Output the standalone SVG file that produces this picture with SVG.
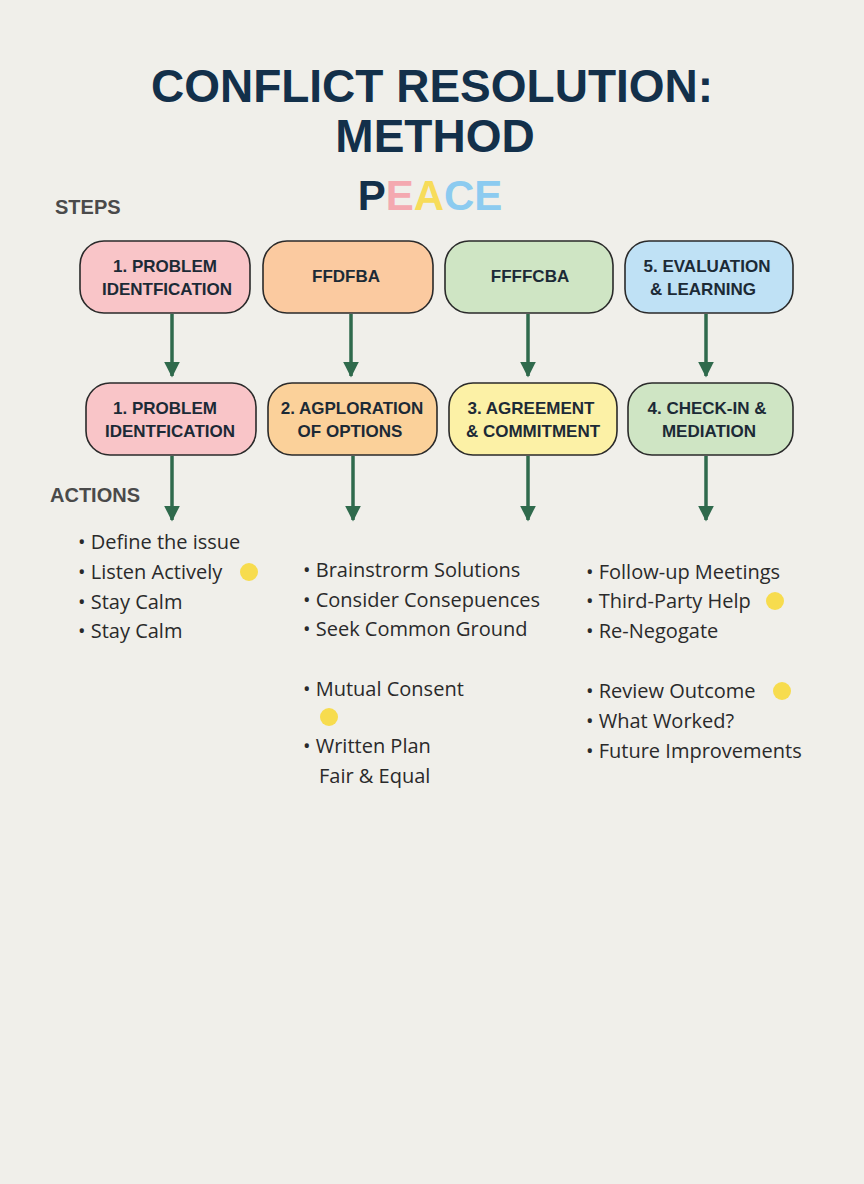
<svg xmlns="http://www.w3.org/2000/svg" width="864" height="1184" viewBox="0 0 864 1184">
<defs>
<style>
.t{font-family:"Liberation Sans",Arial,sans-serif;font-weight:bold;fill:#13304a;text-anchor:middle}
.n{font-family:"Liberation Sans",Arial,sans-serif;font-weight:bold;font-size:17px;fill:#1c2a36;text-anchor:middle}
.b{stroke:#2a2a2a;stroke-width:1.6}
.h{font-family:"Liberation Sans",Arial,sans-serif;font-weight:bold;font-size:20px;fill:#4a4a4a}
.l{font-family:"Open Sans","Liberation Sans",sans-serif;font-size:20px;fill:#2a2a2a}
.c{stroke:#2f6a4c;stroke-width:3.5;fill:none}
.dot{fill:#f7dc4e}
</style>
<marker id="a" viewBox="0 0 10 10" refX="9" refY="5" markerWidth="4.5" markerHeight="4.5" orient="auto" markerUnits="strokeWidth"><path d="M0,0L10,5L0,10z" fill="#2f6a4c"/></marker>
</defs>
<rect width="864" height="1184" fill="#f0efea"/>
<text class="t" x="432" y="102" font-size="46">CONFLICT RESOLUTION:</text>
<text class="t" x="435" y="152" font-size="46">METHOD</text>
<text class="t" x="430" y="210" font-size="42"><tspan fill="#13304a">P</tspan><tspan fill="#f4a9b0">E</tspan><tspan fill="#f7dc5a">A</tspan><tspan fill="#8ccbf0">C</tspan><tspan fill="#8ccbf0">E</tspan></text>
<text class="h" x="55" y="214">STEPS</text>
<text class="h" x="50" y="502">ACTIONS</text>
<g id="connectors">
<path class="c" d="M172,314V376" marker-end="url(#a)"/>
<path class="c" d="M351,314V376" marker-end="url(#a)"/>
<path class="c" d="M528,314V376" marker-end="url(#a)"/>
<path class="c" d="M706,314V376" marker-end="url(#a)"/>
<path class="c" d="M172,456V520" marker-end="url(#a)"/>
<path class="c" d="M353,456V520" marker-end="url(#a)"/>
<path class="c" d="M528,456V520" marker-end="url(#a)"/>
<path class="c" d="M706,456V520" marker-end="url(#a)"/>
</g>
<g id="s1"><rect class="b" x="80" y="241" width="170" height="72" rx="24" fill="#f9c5c8"/><text class="n" x="165" y="272">1. PROBLEM</text><text class="n" x="167" y="295">IDENTFICATION</text></g>
<g id="s2"><rect class="b" x="263" y="241" width="170" height="72" rx="24" fill="#fbcaa0"/><text class="n" x="346" y="282">FFDFBA</text></g>
<g id="s3"><rect class="b" x="445" y="241" width="168" height="72" rx="24" fill="#cfe5c4"/><text class="n" x="530" y="282">FFFFCBA</text></g>
<g id="s5"><rect class="b" x="625" y="241" width="168" height="72" rx="24" fill="#bfe1f5"/><text class="n" x="707" y="272">5. EVALUATION</text><text class="n" x="703" y="295">&amp; LEARNING</text></g>
<g id="a1"><rect class="b" x="86" y="383" width="170" height="72" rx="24" fill="#f9c5c8"/><text class="n" x="165" y="414">1. PROBLEM</text><text class="n" x="170" y="437">IDENTFICATION</text></g>
<g id="a2"><rect class="b" x="268" y="383" width="169" height="72" rx="24" fill="#fbd19a"/><text class="n" x="352" y="414">2. AGPLORATION</text><text class="n" x="350" y="437">OF OPTIONS</text></g>
<g id="a3"><rect class="b" x="449" y="383" width="168" height="72" rx="24" fill="#fcf1a6"/><text class="n" x="531" y="414">3. AGREEMENT</text><text class="n" x="533" y="437">&amp; COMMITMENT</text></g>
<g id="a4"><rect class="b" x="628" y="383" width="165" height="72" rx="24" fill="#cfe5c4"/><text class="n" x="707" y="414">4. CHECK-IN &amp;</text><text class="n" x="709" y="437">MEDIATION</text></g>
<g id="list1">
<text class="l" x="78" y="549">•  Define the issue</text>
<text class="l" x="78" y="579">•  Listen Actively</text><circle class="dot" cx="249" cy="572" r="9"/>
<text class="l" x="78" y="609">•  Stay Calm</text>
<text class="l" x="78" y="638">•  Stay Calm</text>
</g>
<g id="list2">
<text class="l" x="303" y="577">•  Brainstrorm Solutions</text>
<text class="l" x="303" y="607">•  Consider Consepuences</text>
<text class="l" x="303" y="636">•  Seek Common Ground</text>
<text class="l" x="303" y="696">•  Mutual Consent</text><circle class="dot" cx="329" cy="717" r="9"/>
<text class="l" x="303" y="753">•  Written Plan</text>
<text class="l" x="319" y="783">Fair &amp; Equal</text>
</g>
<g id="list3">
<text class="l" x="586" y="579">•  Follow-up Meetings</text>
<text class="l" x="586" y="608">•  Third-Party Help</text><circle class="dot" cx="775" cy="601" r="9"/>
<text class="l" x="586" y="638">•  Re-Negogate</text>
<text class="l" x="586" y="698">•  Review Outcome</text><circle class="dot" cx="782" cy="691" r="9"/>
<text class="l" x="586" y="728">•  What Worked?</text>
<text class="l" x="586" y="758">•  Future Improvements</text>
</g>
</svg>
